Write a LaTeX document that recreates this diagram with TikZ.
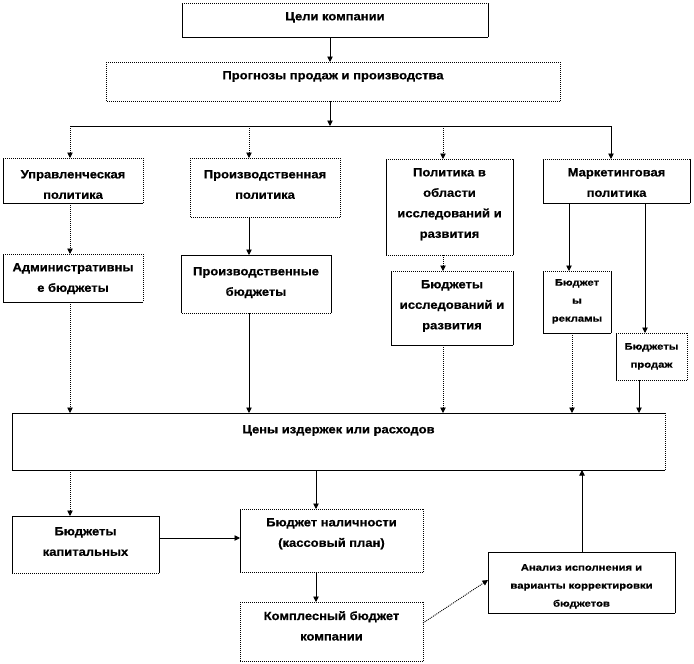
\documentclass[tikz,border=0pt]{standalone}
\usepackage{fontspec}
\setmainfont{Liberation Sans}[FakeStretch=1.1,FakeBold=0.6]
\newfontfamily\smallfont{Liberation Sans}[FakeStretch=1.2,FakeBold=0.6]
\usetikzlibrary{arrows.meta}
\tikzset{
  sl/.style={line width=0.9pt},
  dl/.style={line width=0.9pt, dash pattern=on 1pt off 1pt},
  txt/.style={font=\bfseries\fontsize{11.8}{20.5}\selectfont, align=center, inner sep=0pt, anchor=north},
  stxt/.style={font=\smallfont\bfseries\fontsize{9.4}{18}\selectfont, align=center, inner sep=0pt, anchor=north},
  arr/.style={-{Triangle[width=5.5pt,length=5.5pt]}},
}
\newcommand\mkbox[9]{%
  \node[inner sep=0pt,outer sep=0pt,minimum width={#4pt-#2pt},minimum height={#5pt-#3pt},anchor=north west] (#1) at (#2,#3) {};
  \draw[#6] (#1.north west) -- (#1.north east);
  \draw[#7] (#1.north east) -- (#1.south east);
  \draw[#8] (#1.south east) -- (#1.south west);
  \draw[#9] (#1.south west) -- (#1.north west);}
\begin{document}
\begin{tikzpicture}[x=1pt,y=-1pt]
\fill[white] (0,0) rectangle (694,664);
\useasboundingbox (0,0) rectangle (694,664);
% boxes: name, x1, y1, x2, y2, top, right, bottom, left
\mkbox{goals}{182}{3}{488}{37}{dl}{sl}{sl}{sl}
\mkbox{forecast}{106}{62}{560}{101}{dl}{dl}{dl}{dl}
\mkbox{upr}{3}{158}{143}{203}{dl}{dl}{sl}{sl}
\mkbox{prpol}{190}{158}{340}{217}{dl}{dl}{dl}{dl}
\mkbox{rdpol}{386}{159}{513}{255}{dl}{sl}{dl}{sl}
\mkbox{mkpol}{543}{159}{690}{203}{dl}{sl}{sl}{sl}
\mkbox{admin}{3}{254}{143}{302}{dl}{dl}{sl}{sl}
\mkbox{prbud}{181}{255}{331}{313}{sl}{sl}{dl}{sl}
\mkbox{rdbud}{391}{271}{513}{345}{dl}{sl}{sl}{sl}
\mkbox{adv}{543}{271}{611}{333}{dl}{sl}{sl}{sl}
\mkbox{sales}{616}{333}{687}{380}{dl}{dl}{dl}{sl}
\mkbox{costs}{12}{413}{665}{470}{sl}{dl}{sl}{sl}
\mkbox{cap}{12}{516}{159}{573}{sl}{sl}{dl}{sl}
\mkbox{cash}{240}{509}{423}{572}{dl}{dl}{dl}{sl}
\mkbox{complex}{240}{602}{423}{661}{dl}{dl}{dl}{dl}
\mkbox{anal}{488}{552}{675}{613}{sl}{sl}{sl}{sl}
% texts
\node[txt] (goals-t) at (335,12) {Цели компании};
\node[txt] (forecast-t) at (333,71) {Прогнозы продаж и производства};
\node[txt] (upr-t) at (73,170) {Управленческая\\политика};
\node[txt] (prpol-t) at (265,170) {Производственная\\политика};
\node[txt] (rdpol-t) at (449.5,168) {Политика в\\области\\исследований и\\развития};
\node[txt] (mkpol-t) at (616.5,168) {Маркетинговая\\политика};
\node[txt] (admin-t) at (73,263) {Административны\\е бюджеты};
\node[txt] (prbud-t) at (256,267) {Производственные\\бюджеты};
\node[txt] (rdbud-t) at (452,280) {Бюджеты\\исследований и\\развития};
\node[stxt] (adv-t) at (577,279) {Бюджет\\ы\\рекламы};
\node[stxt] (sales-t) at (651.5,343) {Бюджеты\\продаж};
\node[txt] (costs-t) at (338.5,425) {Цены издержек или расходов};
\node[txt] (cap-t) at (85.5,527) {Бюджеты\\капитальных};
\node[txt] (cash-t) at (331.5,518) {Бюджет наличности\\(кассовый план)};
\node[txt] (complex-t) at (331.5,611) {Комплесный бюджет\\компании};
\node[stxt] (anal-t) at (581.5,564) {Анализ исполнения и\\варианты корректировки\\бюджетов};
% coordinates
\coordinate (br) at (330,126);
\coordinate (b1) at (70,126);
\coordinate (b2) at (249,126);
\coordinate (b3) at (443,126);
\coordinate (b4) at (611,126);
\coordinate (m1) at (569,0);
\coordinate (m2) at (645,0);
\coordinate (m3) at (572,0);
\coordinate (m4) at (639,0);
\coordinate (c1) at (316,0);
\coordinate (c2) at (0,538);
\coordinate (c3) at (582,0);
\coordinate (k1) at (0,623);
\coordinate (k2) at (0,580);
% connectors
\draw[sl,arr] (goals.south -| br) -- (forecast.north -| br);
\draw[sl,arr] (forecast.south -| br) -- (br);
\draw[sl] (b1) -- (b4);
\draw[dl,arr] (b1) -- (b1 |- upr.north);
\draw[dl,arr] (b2) -- (b2 |- prpol.north);
\draw[dl,arr] (b3) -- (b3 |- rdpol.north);
\draw[sl,arr] (b4) -- (b4 |- mkpol.north);
\draw[dl,arr] (b1 |- upr.south) -- (b1 |- admin.north);
\draw[sl,arr] (b2 |- prpol.south) -- (b2 |- prbud.north);
\draw[dl,arr] (b3 |- rdpol.south) -- (b3 |- rdbud.north);
\draw[sl,arr] (m1 |- mkpol.south) -- (m1 |- adv.north);
\draw[sl,arr] (m2 |- mkpol.south) -- (m2 |- sales.north);
\draw[dl,arr] (b1 |- admin.south) -- (b1 |- costs.north);
\draw[sl,arr] (b2 |- prbud.south) -- (b2 |- costs.north);
\draw[dl,arr] (b3 |- rdbud.south) -- (b3 |- costs.north);
\draw[dl,arr] (m3 |- adv.south) -- (m3 |- costs.north);
\draw[sl,arr] (m4 |- sales.south) -- (m4 |- costs.north);
\draw[dl,arr] (b1 |- costs.south) -- (b1 |- cap.north);
\draw[sl,arr] (c1 |- costs.south) -- (c1 |- cash.north);
\draw[sl,arr] (cap.east |- c2) -- (cash.west |- c2);
\draw[sl,arr] (c1 |- cash.south) -- (c1 |- complex.north);
\draw[dl,arr] (complex.east |- k1) -- (anal.west |- k2);
\draw[sl,arr] (c3 |- anal.north) -- (c3 |- costs.south);
\end{tikzpicture}
\end{document}
